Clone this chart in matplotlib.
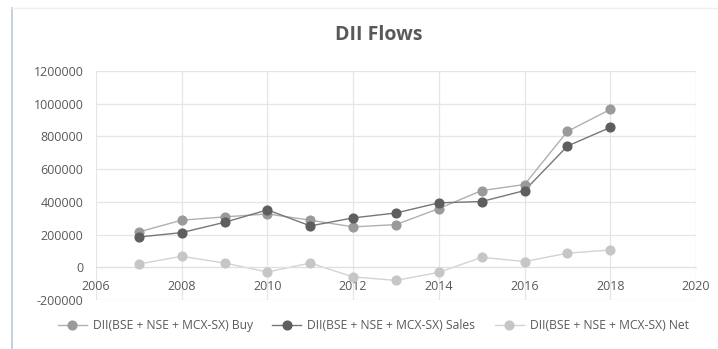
import matplotlib
matplotlib.use("Agg")
from matplotlib import pyplot as plt
from matplotlib.lines import Line2D

# DII flows
years = [2007, 2008, 2009, 2010, 2011, 2012, 2013, 2014, 2015, 2016, 2017, 2018]
buy = [216000, 288000, 308000, 326000, 288000, 247000, 261000, 359000, 469000, 506000, 831000, 965000]
sales = [185000, 212000, 275000, 351000, 253000, 302000, 332000, 394000, 402000, 469000, 741000, 855000]
net = [20000, 67000, 26000, -29000, 26000, -59000, -80000, -31000, 61000, 35000, 86000, 106000]

labels = ["DII(BSE + NSE + MCX-SX) Buy",
          "DII(BSE + NSE + MCX-SX) Sales",
          "DII(BSE + NSE + MCX-SX) Net"]
colors = ["#9a9a9a", "#5e5e5e", "#c6c6c6"]
line_colors = ["#b0b0b0", "#777777", "#d3d3d3"]

plt.rcParams['font.family'] = ['Open Sans', 'DejaVu Sans']

fig = plt.figure(figsize=(7.18, 3.49), dpi=100)
ax = fig.add_axes([0.1337, 0.1404, 0.8357, 0.6562])

for series, c, lc in zip([buy, sales, net], colors, line_colors):
    ax.plot(years, series, color=lc, linewidth=1.0, zorder=2)
    ax.plot(years, series, linestyle='none', marker='o', markersize=6.3,
            color=c, zorder=3)

ax.set_xlim(2006, 2020)
ax.set_ylim(-200000, 1200000)
ax.set_xticks(range(2006, 2021, 2))
ax.set_yticks(range(-200000, 1200001, 200000))
ax.yaxis.set_major_formatter(matplotlib.ticker.FuncFormatter(lambda v, p: "%d" % v))
ax.grid(True, color="#e6e6e6", linewidth=0.9)
ax.set_axisbelow(True)
for s in ['top', 'right', 'left']:
    ax.spines[s].set_visible(False)
ax.spines['bottom'].set_position(('data', 0))
ax.spines['bottom'].set_color("#e0e0e0")
ax.tick_params(axis='both', length=0, labelsize=9, colors="#595959")
ax.tick_params(axis='x', pad=9)
ax.tick_params(axis='y', pad=9)

fig.text(0.527, 0.90, "DII Flows", ha='center', va='center',
         fontsize=14, fontweight='bold', color="#595959")

handles = [Line2D([0], [0], color=lc, linewidth=1.0, marker='o', markersize=6.3,
                  markerfacecolor=c, markeredgecolor=c)
           for c, lc in zip(colors, line_colors)]
fig.legend(handles, labels, loc='center', bbox_to_anchor=(0.52, 0.068), ncol=3,
           frameon=False, fontsize=8.7, labelcolor="#595959",
           handlelength=2.4, columnspacing=1.6, handletextpad=0.5)

# thin frame around the chart area
fig.add_artist(Line2D([0.017, 0.017], [0, 0.977], color="#b8c8dc", linewidth=1.2))
fig.add_artist(Line2D([0.017, 1], [0.977, 0.977], color="#eeeeee", linewidth=1.0))

fig.savefig("out.png", dpi=100)
